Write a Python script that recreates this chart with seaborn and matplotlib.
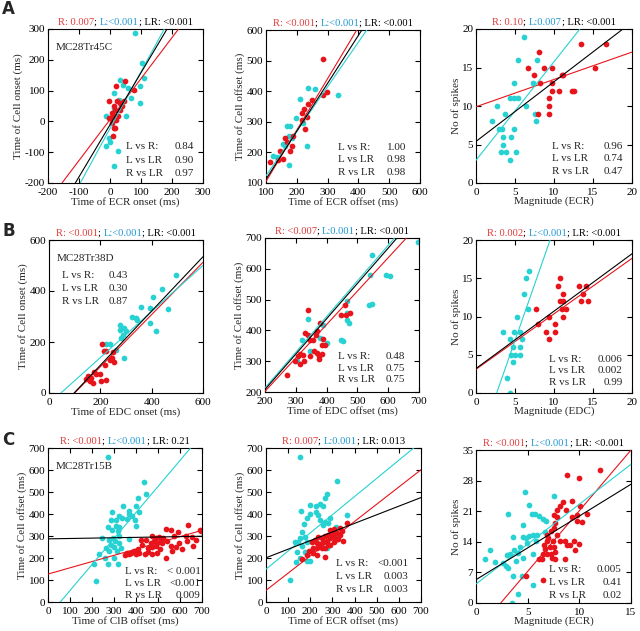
import matplotlib
matplotlib.use("Agg")
from matplotlib import pyplot as plt
from matplotlib.offsetbox import TextArea, HPacker, AnchoredOffsetbox
import numpy as np
import seaborn as sns

# --- panel A1: ECR onset ---
a1_l_x = [82, 103, 109, 31, 42, 58, 98, 69, 96, 12, -14, 12, 50, -4, 1, -14, 25, 12, 28]
a1_l_y = [287, 190, 141, 135, 119, 108, 116, 76, 60, 92, 19, 44, 19, -55, -68, -81, -97, -146, 71]
a1_r_x = [47, 20, 76, -3, 23, 33, 44, 12, 17, 31, 7, 12, 1, 20, 7, 17, 12, 9, 25, 39, -4]
a1_r_y = [132, 116, 103, 65, 65, 60, 65, 51, 38, 38, 27, 19, 11, 6, -5, -21, -21, -48, 16, 49, 11]
a1_fit = [(1.33, 6), (1.845, -23), (1.69, -11)]  # R, L, LR (slope, intercept)

# --- panel A2: ECR offset ---
a2_l_x = [237, 259, 210, 197, 178, 167, 176, 154, 124, 135, 232, 174, 221, 335, 162, 183]
a2_l_y = [412, 406, 374, 313, 286, 286, 255, 229, 188, 185, 222, 160, 295, 387, 220, 248]
a2_r_x = [286, 299, 284, 248, 237, 224, 216, 234, 216, 227, 189, 162, 183, 178, 145, 156, 113, 140, 167]
a2_r_y = [505, 398, 387, 371, 357, 341, 330, 317, 306, 277, 255, 248, 220, 204, 204, 177, 168, 175, 233]
a2_fit = [(1.68, -63), (1.456, -22), (1.566, -44)]

# --- panel A3: ECR magnitude ---
a3_l_x = [6.2, 5.35, 7.8, 4.9, 7.3, 2.65, 6.4, 4.4, 4.9, 5.35, 2.1, 3.7, 7.6, 7.7, 2.9, 3.3, 4.9, 3.5, 4.45, 3.4, 3.2, 3.9, 5.1, 4.3]
a3_l_y = [19, 16, 16, 13, 13, 10, 10, 11, 11, 11, 8, 9, 9, 8, 7, 7, 7, 6, 6, 5, 4, 4, 4, 3]
a3_r_x = [13.4, 16.7, 8.1, 6.7, 8.7, 9.7, 15.3, 7.4, 11.0, 11.2, 8.2, 9.7, 9.7, 10.7, 12.3, 12.6, 9.3, 9.3, 9.3, 7.9]
a3_r_y = [18, 18, 17, 15, 15, 15, 15, 14, 14, 14, 13, 13, 12, 12, 12, 12, 11, 10, 9, 9]
a3_fit = [(0.355, 9.9), (1.28, 2.95), (0.775, 5.4)]

# --- panel B1: EDC onset ---
b1_l_x = [496, 442, 405, 464, 360, 392, 325, 340, 344, 392, 418, 278, 301, 278, 288, 294, 236, 223, 262, 291, 282]
b1_l_y = [461, 407, 378, 330, 339, 333, 300, 294, 287, 274, 242, 268, 242, 249, 228, 254, 192, 192, 167, 137, 215]
b1_r_x = [207, 214, 223, 250, 246, 236, 253, 217, 177, 184, 197, 151, 164, 158, 171, 204, 223, 144]
b1_r_y = [192, 166, 166, 159, 139, 129, 120, 110, 84, 74, 74, 67, 60, 47, 41, 47, 50, 54]
b1_fit = [(1.024, -102), (0.904, -42), (1.064, -104)]

# --- panel B2: EDC offset ---
b2_l_x = [698, 549, 542, 594, 605, 538, 546, 465, 467, 473, 341, 319, 346, 305, 378, 400, 448, 454, 467, 389]
b2_l_y = [687, 644, 579, 579, 576, 484, 486, 494, 456, 424, 438, 370, 334, 300, 375, 359, 370, 364, 435, 419]
b2_r_x = [340, 459, 462, 475, 448, 378, 330, 340, 346, 370, 365, 357, 346, 297, 313, 322, 313, 326, 360, 370,
          384, 389, 375, 376, 386, 394, 270, 308]
b2_r_y = [467, 484, 451, 456, 451, 424, 392, 386, 370, 397, 384, 370, 316, 300, 323, 319, 291, 300, 332, 327,
          354, 373, 316, 308, 324, 354, 256, 316]
b2_fit = [(1.085, -15), (1.157, -18), (1.147, -21)]

# --- panel B3: EDC magnitude ---
b3_l_x = [6.85, 6.4, 6.2, 6.7, 5.2, 3.4, 4.9, 5.7, 4.4, 5.9, 4.8, 5.6, 4.45, 5.0, 5.6, 4.8, 4.0, 4.3]
b3_l_y = [16, 15, 13, 11, 10, 8, 8, 8, 7, 7, 6, 6, 5, 5, 5, 4, 2, 0]
b3_r_x = [10.8, 10.45, 13.15, 14.1, 11.15, 13.7, 10.8, 11.2, 13.45, 14.4, 11.0, 11.55, 7.7, 11.15, 9.4, 7.9,
          10.15, 9.0, 10.15, 9.3]
b3_r_y = [15, 14, 14, 14, 13, 13, 12, 12, 12, 12, 11, 11, 11, 10, 10, 9, 9, 8, 8, 7]
b3_fit = [(0.725, 3.1), (2.92, -7.74), (0.75, 3.2)]

# --- panel C1: ClB offset ---
c1_l_x = [271, 437, 447, 407, 339, 369, 291, 366, 324, 399, 414, 336, 357, 384, 396, 402, 309, 286, 271, 309,
          324, 291, 316, 324, 246, 276, 294, 306, 324, 286, 301, 331, 264, 279, 312, 230, 261, 301, 211, 271,
          316, 218, 369]
c1_l_y = [658, 546, 490, 471, 436, 415, 411, 401, 392, 436, 411, 381, 377, 392, 374, 347, 374, 371, 341, 347,
          341, 326, 321, 299, 291, 284, 291, 276, 269, 261, 251, 247, 247, 232, 232, 217, 202, 202, 172, 172,
          172, 94, 287]
c1_r_x = [637, 538, 557, 572, 693, 655, 592, 474, 490, 505, 512, 523, 542, 482, 467, 497, 520, 557, 595, 632,
          658, 444, 422, 429, 456, 474, 492, 508, 535, 497, 474, 456, 441, 407, 392, 377, 369, 357, 351, 399,
          414, 565, 580, 610, 673, 695, 625]
c1_r_y = [351, 332, 326, 302, 326, 296, 317, 299, 291, 296, 284, 291, 276, 276, 269, 266, 269, 254, 266, 276,
          254, 284, 284, 257, 247, 251, 254, 242, 202, 224, 217, 227, 217, 239, 232, 224, 217, 224, 212, 217,
          224, 232, 251, 239, 284, 321, 299]
c1_fit = [(0.284, 127), (1.182, -66), (0.017, 287)]

# --- panel C2: ECR offset ---
c2_l_x = [154, 320, 275, 267, 157, 199, 244, 226, 259, 199, 226, 184, 244, 267, 259, 278, 287, 237, 172, 161,
          154, 131, 146, 176, 184, 161, 139, 176, 154, 184, 199, 136, 109, 275, 312, 365, 317]
c2_l_y = [658, 548, 490, 475, 414, 441, 444, 438, 438, 399, 408, 380, 373, 365, 350, 358, 380, 396, 353, 320,
          289, 274, 274, 297, 274, 256, 228, 228, 198, 186, 186, 183, 99, 247, 304, 396, 342]
c2_r_x = [365, 335, 342, 305, 297, 312, 282, 267, 252, 237, 222, 207, 229, 244, 259, 275, 290, 305, 320, 332,
          320, 282, 267, 252, 229, 211, 192, 214, 229, 267, 184, 161, 290, 305, 347, 327, 290]
c2_r_y = [358, 335, 323, 332, 312, 317, 304, 301, 289, 297, 282, 274, 266, 262, 274, 277, 289, 297, 312, 304,
          286, 259, 244, 247, 244, 247, 231, 221, 213, 205, 213, 195, 259, 274, 277, 286, 327]
c2_fit = [(0.783, 53), (0.826, 149), (0.391, 201)]

# --- panel C3: ECR magnitude ---
c3_l_x = [0.87, 1.36, 1.84, 2.59, 2.91, 3.14, 3.14, 3.62, 3.30, 3.69, 4.07, 3.56, 4.04, 3.46, 4.53, 4.75, 5.17,
          5.4, 5.72, 6.05, 6.53, 6.79, 7.5, 4.59, 4.85, 5.17, 5.5, 5.88, 4.98, 4.27, 5.56, 4.59, 3.88, 4.43, 5.5,
          6.69, 5.82, 2.97]
c3_l_y = [10.1, 12.2, 9.4, 9.1, 8.4, 8.1, 20.3, 15.2, 11.2, 12.2, 11.4, 6.1, 2.05, 0, 17.9, 25.3, 22.4, 20.3,
          20.3, 19.8, 19.3, 18.8, 24.4, 15.2, 14.8, 15.4, 15.6, 15.6, 13.7, 12.9, 11.2, 10.3, 9.5, 6.1, 4.2,
          16.2, 14.2, 11.0]
c3_r_x = [8.79, 10.0, 11.96, 8.41, 9.28, 8.15, 8.73, 7.82, 10.02, 9.76, 7.5, 10.73, 9.28, 7.82, 10.25, 9.76,
          7.66, 7.5, 7.24, 7.82, 6.85, 7.01, 7.44, 8.15, 8.63, 9.44, 9.12, 9.93, 8.79, 6.85, 6.6, 6.69, 7.18, 7.5,
          7.66, 7.24, 6.85, 6.47, 7.34, 6.37, 6.14, 7.66, 8.63, 9.54, 4.85, 6.53]
c3_r_y = [29.3, 28.7, 30.4, 23.1, 23.4, 22.3, 21.3, 21.3, 22.3, 20.2, 20.2, 20.3, 19.6, 19.6, 18.5, 18.8, 18.3,
          17.1, 16.4, 15.6, 15.6, 14.8, 14.1, 14.2, 14.2, 14.2, 13.3, 13.5, 13.2, 14.1, 13.2, 12.4, 12.7, 12.9,
          11.6, 11.2, 11.2, 11.2, 10.4, 10.1, 10.1, 10.1, 10.1, 12.2, 6.1, 5.2]
c3_fit = [(2.775, -6.64), (1.826, 4.34), (1.456, 5.33)]

# p-values shown above each panel: R, L, LR
titles = [
    ("R: 0.007", "L:<0.001", "LR: <0.001"),
    ("R: <0.001", "L:<0.001", "LR: <0.001"),
    ("R: 0.10", "L:0.007", "LR: <0.001"),
    ("R: <0.001", "L:<0.001", "LR: <0.001"),
    ("R: <0.007", "L:0.001", "LR: <0.001"),
    ("R: 0.002", "L:<0.001", "LR: <0.001"),
    ("R: <0.001", "L:<0.001", "LR: 0.21"),
    ("R: 0.007", "L:0.001", "LR: 0.013"),
    ("R: <0.001", "L:<0.001", "LR: <0.001"),
]
comp_names = ["L vs R:", "L vs LR", "R vs LR"]
comp_values = [
    ["0.84", "0.90", "0.97"],
    ["1.00", "0.98", "0.98"],
    ["0.96", "0.74", "0.47"],
    ["0.43", "0.30", "0.87"],
    ["0.48", "0.75", "0.75"],
    ["0.006", "0.002", "0.99"],
    ["< 0.001", "<0.001", "0.009"],
    ["<0.001", "0.003", "0.003"],
    ["0.005", "0.41", "0.02"],
]
xlabels = ["Time of ECR onset (ms)", "Time of ECR offset (ms)", "Magnitude (ECR)",
           "Time of EDC onset (ms)", "Time of EDC offset (ms)", "Magnitude (EDC)",
           "Time of ClB offset (ms)", "Time of ECR offset (ms)", "Magnitude (ECR)"]
ylabels = ["Time of Cell onset (ms)", "Time of Cell offset (ms)", "No of spikes",
           "Time of Cell onset (ms)", "Time of Cell offset (ms)", "No of spikes",
           "Time of Cell offset (ms)", "Time of Cell offset (ms)", "No of spikes"]
cell_names = {0: "MC28Tr45C", 3: "MC28Tr38D", 6: "MC28Tr15B"}
panel_letters = {0: ("A", 9), 3: ("B", 231), 6: ("C", 440)}
ticks = [np.arange(-200, 301, 100), np.arange(100, 601, 100), np.arange(0, 21, 5),
         np.arange(0, 601, 200), np.arange(200, 701, 100), np.arange(0, 21, 5),
         np.arange(0, 701, 100), np.arange(0, 701, 100), None]
c3_xticks = np.arange(0, 16, 5)
c3_yticks = np.arange(0, 36, 7)

RED = "#e8141c"
CYAN = "#28d2d2"
RED_TXT = "#e23b3b"
BLUE_TXT = "#1f97d2"

sns.set_style("ticks")
plt.rcParams["font.family"] = ["Liberation Serif", "DejaVu Serif"]
plt.rcParams["axes.unicode_minus"] = False

W, H = 640, 631
fig = plt.figure(figsize=(W / 100, H / 100), dpi=100)

# axes boxes in pixels: left, right, top, bottom
boxes = [(48, 203, 29, 183), (266, 420, 30, 183), (476, 632, 29, 183),
         (49, 203, 240, 393), (265, 419, 238, 392), (476, 632, 240, 393),
         (48, 202, 448, 602), (266, 421, 448, 602), (476, 631, 450, 603)]
# position of the comparison text block (left x, right x, y of first row, row step), axes fraction
comp_pos = [(0.50, 0.94, 0.234, 0.085), (0.47, 0.91, 0.234, 0.082), (0.49, 0.94, 0.24, 0.083),
            (0.085, 0.51, 0.767, 0.083), (0.475, 0.91, 0.23, 0.076), (0.47, 0.94, 0.222, 0.077),
            (0.50, 0.99, 0.20, 0.078), (0.45, 0.92, 0.253, 0.085), (0.47, 0.94, 0.216, 0.082)]

panels = [
    (a1_l_x, a1_l_y, a1_r_x, a1_r_y, a1_fit),
    (a2_l_x, a2_l_y, a2_r_x, a2_r_y, a2_fit),
    (a3_l_x, a3_l_y, a3_r_x, a3_r_y, a3_fit),
    (b1_l_x, b1_l_y, b1_r_x, b1_r_y, b1_fit),
    (b2_l_x, b2_l_y, b2_r_x, b2_r_y, b2_fit),
    (b3_l_x, b3_l_y, b3_r_x, b3_r_y, b3_fit),
    (c1_l_x, c1_l_y, c1_r_x, c1_r_y, c1_fit),
    (c2_l_x, c2_l_y, c2_r_x, c2_r_y, c2_fit),
    (c3_l_x, c3_l_y, c3_r_x, c3_r_y, c3_fit),
]

for i, (lx, ly, rx, ry, fit) in enumerate(panels):
    left, right, top, bottom = boxes[i]
    ax = fig.add_axes([left / W, (H - bottom) / H, (right - left) / W, (bottom - top) / H])

    sns.scatterplot(x=lx, y=ly, color=CYAN, s=17, linewidth=0, ax=ax, zorder=2)
    sns.scatterplot(x=rx, y=ry, color=RED, s=17, linewidth=0, ax=ax, zorder=2)

    for (slope, icpt), col in zip(fit, [RED, CYAN, "black"]):
        ax.axline((0, icpt), slope=slope, color=col, lw=0.8, zorder=3)

    if ticks[i] is None:
        xt, yt = c3_xticks, c3_yticks
    else:
        xt = yt = ticks[i]
    ax.set_xlim(xt[0], xt[-1])
    ax.set_ylim(yt[0], yt[-1])
    ax.set_xticks(xt)
    ax.set_yticks(yt)

    ax.tick_params(direction="in", top=True, right=True, length=3.5, width=0.8,
                   labelsize=8, colors="black")
    ax.tick_params(axis="x", pad=3.5)
    ax.tick_params(axis="y", pad=2)
    for sp in ax.spines.values():
        sp.set_linewidth(0.8)
        sp.set_color("black")
    ax.set_xlabel(xlabels[i], fontsize=8, labelpad=0)
    ax.set_ylabel(ylabels[i], fontsize=8, labelpad=1)

    # coloured title line
    r_txt, l_txt, lr_txt = titles[i]
    parts = [(r_txt, RED_TXT), ("; ", "black"), (l_txt, BLUE_TXT), ("; " + lr_txt, "black")]
    pack = HPacker(children=[TextArea(s, textprops=dict(color=c, fontsize=7.6)) for s, c in parts],
                   pad=0, sep=0, align="baseline")
    box = AnchoredOffsetbox(loc="lower center", child=pack, frameon=False, pad=0, borderpad=0.15,
                            bbox_to_anchor=(0.5, 1.0), bbox_transform=ax.transAxes)
    ax.add_artist(box)

    xl, xr, y0, dy = comp_pos[i]
    for k, (name, val) in enumerate(zip(comp_names, comp_values[i])):
        ax.text(xl, y0 - k * dy, name, transform=ax.transAxes, fontsize=8, va="center", ha="left")
        ax.text(xr, y0 - k * dy, val, transform=ax.transAxes, fontsize=8, va="center", ha="right")

    if i in cell_names:
        ax.text(0.05, 0.88, cell_names[i], transform=ax.transAxes, fontsize=8, va="center", ha="left")
    if i in panel_letters:
        letter, ypix = panel_letters[i]
        fig.text(2 / W, 1 - ypix / H, letter, fontsize=12, fontweight="bold",
                 family="DejaVu Sans", va="center", ha="left")

fig.savefig("out.png", dpi=100)
